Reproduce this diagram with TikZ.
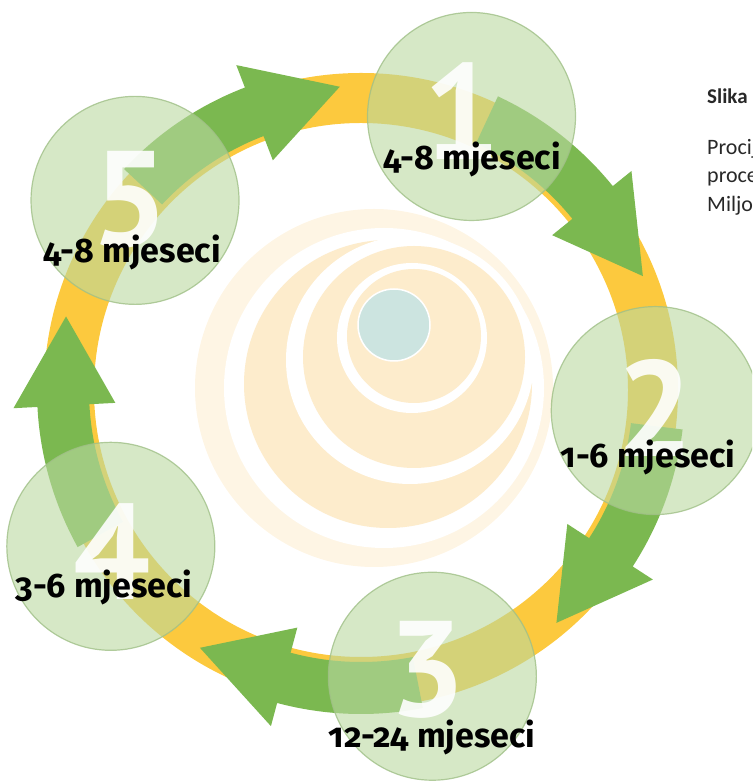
\documentclass[tikz,border=0pt]{standalone}
\usepackage{fontspec}
\newfontfamily\mjfont{Fira Sans}[Numbers=OldStyle, RawFeature={+onum}]
\newfontfamily\brojfont{PT Sans}[BoldFont={PT Sans Bold}]
\newfontfamily\biljfont{Carlito}

\definecolor{ringyellow}{RGB}{252,201,62}
\definecolor{arrowgreen}{RGB}{123,184,80}
\definecolor{bubblegreen}{RGB}{186,216,160}
\definecolor{bubbleedge}{RGB}{160,192,135}
\definecolor{swirlpale}{RGB}{253,236,204}
\definecolor{swirlouter}{RGB}{254,245,228}
\definecolor{dotblue}{RGB}{204,228,224}
\definecolor{notegray}{RGB}{40,40,40}

% text faces
\newcommand{\monthtext}[1]{\mjfont\bfseries\fontsize{34}{40}\selectfont\addfontfeatures{Numbers=OldStyle}#1}
\newcommand{\numtext}[1]{\brojfont\bfseries\fontsize{136}{140}\selectfont #1}

% curved arrow along the ring: #1 tail angle, #2 tip angle
\newcommand{\ringarrow}[2]{%
  \fill[arrowgreen] (#1:324) arc[start angle=#1, end angle=#2+17, radius=324pt]
    -- (#2+17:348) -- (#2:304) -- (#2+17:246) -- (#2+17:272)
    arc[start angle=#2+17, end angle=#1, radius=272pt] -- cycle;}

\begin{document}
\begin{tikzpicture}[x=1pt, y=1pt,
    bubble/.style={circle, minimum size=208pt, inner sep=0pt, fill=bubblegreen,
      fill opacity=0.6, draw=bubbleedge, draw opacity=0.8, line width=1.2pt},
    bignum/.style={anchor=base, inner sep=0pt, text=white, text opacity=0.9},
    months/.style={anchor=base, inner sep=0pt},
    note/.style={anchor=base west, inner sep=0pt, text=notegray}]

    \useasboundingbox (0,0) rectangle (752,784);
    \clip (0,0) rectangle (752,784);

    % background swirl
    \fill[swirlouter] (374,396) circle[radius=179pt];
    \fill[white] (384,396) circle[radius=160pt];
    \fill[swirlpale] (388,400) circle[radius=144pt];
    \fill[white] (410,424) circle[radius=124pt];
    \fill[swirlpale] (414,427) circle[radius=111pt];
    \fill[white] (412,446) circle[radius=75pt];
    \fill[swirlpale] (414,448) circle[radius=67pt];
    \filldraw[fill=dotblue, draw=white, line width=1.5pt] (394,459) circle[radius=36pt];

    \begin{scope}[shift={(361,394)}]
        \draw[ringyellow, line width=50pt] (0,0) circle[radius=292pt];
        \ringarrow{137}{94}
        \ringarrow{65}{22}
        \ringarrow{-7}{-50}
        \ringarrow{-79}{-122}
        \ringarrow{209}{166}
        \foreach \ang/\n in {68/1,-4/2,-76/3,-148/4,140/5}
            \node[bubble] (c\n) at (\ang:295) {};
    \end{scope}

    \node[bignum] (d1) at (462,624) {\numtext{1}};
    \node[bignum] (d2) at (655,327) {\numtext{2}};
    \node[bignum] (d3) at (427,67) {\numtext{3}};
    \node[bignum] (d4) at (112,184) {\numtext{4}};
    \node[bignum] (d5) at (130,537) {\numtext{5}};

    \node[months] (m1) at (472,614) {\monthtext{4-8 mjeseci}};
    \node[months] (m2) at (648,316) {\monthtext{1-6 mjeseci}};
    \node[months] (m3) at (432,36) {\monthtext{12-24 mjeseci}};
    \node[months] (m4) at (104,186) {\monthtext{3-6 mjeseci}};
    \node[months] (m5) at (132,521) {\monthtext{4-8 mjeseci}};

    \node[note] (slika) at (707,680) {\biljfont\bfseries\fontsize{21}{26}\selectfont Slika};
    \node[note] (l1) at (707,629) {\biljfont\fontsize{22}{26}\selectfont Procij};
    \node[note] (l2) at (707,601) {\biljfont\fontsize{22}{26}\selectfont proce};
    \node[note] (l3) at (707,572) {\biljfont\fontsize{22}{26}\selectfont Miljo};
\end{tikzpicture}
\end{document}
